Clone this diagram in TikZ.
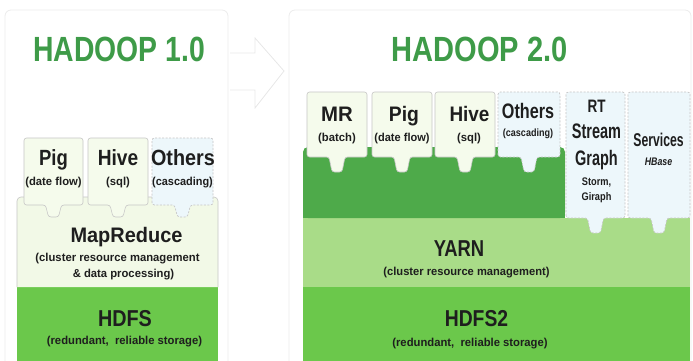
\documentclass[tikz,border=0pt]{standalone}
\usepackage{fontspec}
\setmainfont{Liberation Sans}
\definecolor{titlegreen}{HTML}{3E9B48}
\definecolor{boxfill}{HTML}{F5FBEC}
\definecolor{mrfill}{HTML}{F2F9E7}
\definecolor{otherfill}{HTML}{EDF7FB}
\definecolor{darkgreen}{HTML}{4EAA4A}
\definecolor{yarnfill}{HTML}{A9DC88}
\definecolor{hdfsfill}{HTML}{6BC84B}
\definecolor{edgegray}{HTML}{C6C6C6}
\definecolor{panelgray}{HTML}{ECECEC}
\definecolor{inkdark}{HTML}{1E1E1E}
% \lbl{size}{horizontal squeeze}{text}
\newcommand{\lbl}[3]{{\fontsize{#1}{#1}\selectfont\bfseries\scalebox{#2}[1]{#3}}}
% \appbox{left}{right}{top}{bottom}{tab depth}{style}
\newcommand{\appbox}[6]{%
  \path[#6,rounded corners=2.5pt]
    (#1,#4) -- (#1,#3) -- (#2,#3) -- (#2,#4)
    -- ({(#1+#2)/2+8},#4) -- ({(#1+#2)/2+5},{#4+#5})
    -- ({(#1+#2)/2-5},{#4+#5}) -- ({(#1+#2)/2-8},#4) -- cycle;}
\begin{document}
\begin{tikzpicture}[x=1pt,y=-1pt,
  txt/.style={inner sep=0pt,anchor=base,text=inkdark},
  title/.style={inner sep=0pt,anchor=base,text=titlegreen},
  solidbox/.style={fill=boxfill,draw=edgegray,line width=0.6pt},
  dashbox/.style={fill=otherfill,draw=edgegray,line width=0.7pt,dash pattern=on 2pt off 1.5pt},
  panel/.style={fill=white,draw=panelgray,line width=0.8pt,rounded corners=6pt}]
\useasboundingbox (0,0) rectangle (693,361);

% panels
\path[panel] (5,10) rectangle (228,370);
\path[panel] (289,10) rectangle (691,370);

% hollow arrow between the panels
\draw[panelgray!80!gray!60,line width=0.8pt,line join=miter]
  (230,53) -- (255,53) -- (255,38) -- (284,71) -- (255,108) -- (255,90) -- (230,90);

% ---------------- Hadoop 1.0 ----------------
\node[title] (t1) at (119,62) {\lbl{35}{0.81}{HADOOP 1.0}};

\fill[hdfsfill] (17,287) rectangle (218,362);
\path[fill=mrfill,draw=edgegray,line width=0.6pt,rounded corners=4pt]
  (17,287) -- (17,197) -- (218,197) -- (218,287);

\appbox{24}{83}{138}{205}{12}{solidbox}
\appbox{88}{148}{138}{205}{12}{solidbox}
\appbox{152}{213}{138}{205}{12}{dashbox}

\node[txt] (pig1) at (53.5,165.5) {\lbl{22}{0.84}{Pig}};
\node[txt] (pig1s) at (53.5,185) {\lbl{11.5}{0.98}{(date flow)}};
\node[txt] (hive1) at (118,165.5) {\lbl{22}{0.87}{Hive}};
\node[txt] (hive1s) at (118,185) {\lbl{11.5}{0.98}{(sql)}};
\node[txt] (oth1) at (183,165.5) {\lbl{22}{0.9}{Others}};
\node[txt] (oth1s) at (182.5,185) {\lbl{11.5}{0.95}{(cascading)}};

\node[txt] (mr1) at (126.5,242.5) {\lbl{21}{0.95}{MapReduce}};
\node[txt] (mr1a) at (117.5,261) {\lbl{11.5}{0.98}{(cluster resource management}};
\node[txt] (mr1b) at (123.5,277) {\lbl{11.5}{0.98}{\& data processing)}};

\node[txt] (hdfs1) at (125,326) {\lbl{23}{0.86}{HDFS}};
\node[txt] (hdfs1s) at (124.5,344.5) {\lbl{11.5}{0.98}{(redundant,\ \ reliable storage)}};

% ---------------- Hadoop 2.0 ----------------
\node[title] (t2) at (479.5,61.5) {\lbl{35}{0.83}{HADOOP 2.0}};

\fill[hdfsfill] (303,287) rectangle (690,362);
\fill[yarnfill] (303,218) rectangle (690,287);
\fill[darkgreen,rounded corners=5pt] (303,218) -- (303,147) -- (565,147) -- (565,218) -- cycle;
\fill[darkgreen] (303,212) rectangle (565,218);

\appbox{307}{367}{92}{157}{15}{solidbox}
\appbox{372}{432}{92}{157}{15}{solidbox}
\appbox{435}{495}{92}{157}{15}{solidbox}
\appbox{498}{560}{92}{157}{15}{dashbox}
\appbox{566}{625}{92}{218}{15}{dashbox}
\appbox{628}{690}{92}{218}{15}{dashbox}

\node[txt] (mr2) at (337,121.7) {\lbl{21}{0.97}{MR}};
\node[txt] (mr2s) at (337,141) {\lbl{11.5}{0.98}{(batch)}};
\node[txt] (pig2) at (404,121.7) {\lbl{21}{0.92}{Pig}};
\node[txt] (pig2s) at (402,141) {\lbl{11.5}{0.96}{(date flow)}};
\node[txt] (hive2) at (469.5,121.7) {\lbl{21}{0.9}{Hive}};
\node[txt] (hive2s) at (469,141) {\lbl{11.5}{0.98}{(sql)}};
\node[txt] (oth2) at (528,118.3) {\lbl{21}{0.77}{Others}};
\node[txt] (oth2s) at (528,136.5) {\lbl{10.5}{0.86}{(cascading)}};

\node[txt] (rt) at (596.5,112.5) {\lbl{18}{0.75}{RT}};
\node[txt] (stream) at (596.5,138.3) {\lbl{21}{0.69}{Stream}};
\node[txt] (graph) at (596.5,165) {\lbl{21}{0.69}{Graph}};
\node[txt] (storm) at (596.5,185) {\lbl{11}{0.84}{Storm,}};
\node[txt] (giraph) at (596.5,200.5) {\lbl{11}{0.84}{Giraph}};

\node[txt] (svc) at (658.5,146.7) {\lbl{18.5}{0.66}{Services}};
\node[txt] (hbase) at (658.5,165.7) {\lbl{11}{0.8}{\itshape HBase}};

\node[txt] (yarn) at (459,256.7) {\lbl{23}{0.8}{YARN}};
\node[txt] (yarns) at (466.5,275) {\lbl{11.5}{0.97}{(cluster resource management)}};

\node[txt] (hdfs2) at (476.5,326.7) {\lbl{23}{0.84}{HDFS2}};
\node[txt] (hdfs2s) at (470,346.5) {\lbl{11.5}{0.98}{(redundant,\ \ reliable storage)}};
\end{tikzpicture}
\end{document}
